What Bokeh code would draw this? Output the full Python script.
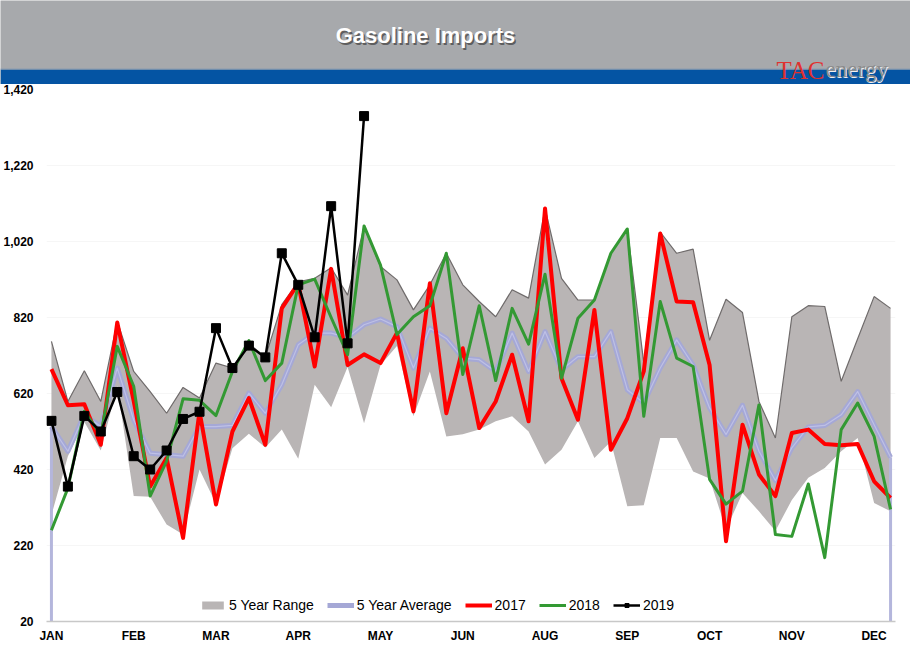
from bokeh.plotting import figure
from bokeh.models import Range1d, FixedTicker, NumeralTickFormatter, Legend, LegendItem
from bokeh.layouts import column
from bokeh.embed import file_html
from bokeh.resources import INLINE
from bokeh.core.properties import value

# ---------------- data ----------------
title_text = "Gasoline Imports"
month_labels = ["JAN", "FEB", "MAR", "APR", "MAY", "JUN", "AUG", "SEP", "OCT", "NOV", "DEC"]
weeks = list(range(52))
month_ticks = weeks[::5][:len(month_labels)]
y_ticks = [20, 220, 420, 620, 820, 1020, 1220, 1420]

range_max = [757, 599, 680, 599, 810, 678, 625, 568, 636, 608, 700, 687, 752, 715, 854, 914,
             923, 951, 879, 1059, 954, 919, 840, 906, 989, 906, 862, 822, 893, 871, 1107, 923,
             866, 866, 989, 1054, 700, 1045, 989, 1000, 760, 868, 833, 599, 503, 822, 851, 849,
             652, 764, 875, 844]
range_min = [300, 455, 545, 470, 640, 350, 348, 275, 249, 420, 330, 476, 514, 478, 525, 448,
             643, 584, 690, 542, 695, 745, 560, 678, 507, 513, 525, 547, 560, 520, 433, 472,
             547, 450, 494, 323, 326, 503, 503, 415, 396, 262, 358, 310, 258, 340, 398, 424,
             468, 503, 332, 310]
avg5 = [533, 468, 564, 533, 687, 550, 463, 459, 455, 533, 533, 536, 621, 568, 643, 748,
        779, 779, 767, 801, 816, 796, 687, 792, 765, 713, 709, 678, 779, 678, 783, 682,
        717, 717, 783, 630, 595, 687, 761, 695, 582, 512, 589, 468, 391, 477, 532, 536,
        564, 625, 538, 452]
y2017 = [684, 589, 592, 485, 807, 600, 375, 450, 240, 573, 328, 520, 608, 485, 844, 910,
         691, 948, 695, 723, 700, 779, 573, 910, 568, 739, 529, 599, 722, 547, 1107, 660,
         551, 840, 472, 555, 678, 1041, 862, 860, 695, 231, 538, 407, 350, 516, 525, 487,
         484, 487, 389, 345]
y2018 = [260, 371, 573, 512, 744, 639, 350, 442, 606, 602, 562, 678, 759, 654, 700, 906,
         921, 820, 722, 1061, 958, 775, 822, 851, 989, 670, 851, 654, 844, 750, 934, 660,
         818, 866, 989, 1053, 560, 862, 713, 691, 394, 329, 363, 590, 249, 244, 382, 188,
         525, 595, 507, 315]
y2019 = [548, 375, 561, 520, 624, 455, 420, 470, 553, 572, 792, 687, 746, 715, 989, 906,
         768, 1113, 752, 1350]

# ---------------- header ----------------
W = 910
HH = 84
header = figure(width=W, height=HH, x_range=Range1d(0, W), y_range=Range1d(0, HH),
                output_backend="svg", toolbar_location=None, min_border=0,
                x_axis_type=None, y_axis_type=None)
header.grid.visible = False
header.outline_line_color = None
header.background_fill_color = "#a7a9ac"
header.border_fill_color = "#a7a9ac"
header.quad(left=[0], right=[W], bottom=[0], top=[15], fill_color="#0454a3", line_color=None)
header.quad(left=[0], right=[W], bottom=[15], top=[16], fill_color="#8a9bb0", line_color=None)
header.text(x=[426.5], y=[47.5], text=[title_text], text_align="center", text_baseline="middle",
            text_font=value("Liberation Sans"), text_font_style="bold", text_font_size="22px",
            text_color="#4a4a4a", text_alpha=0.8)
header.text(x=[425], y=[49], text=[title_text], text_align="center", text_baseline="middle",
            text_font=value("Liberation Sans"), text_font_style="bold", text_font_size="22px",
            text_color="white")
header.text(x=[776], y=[14], text=["TAC"], text_align="left", text_baseline="alphabetic",
            text_font=value("Liberation Serif"), text_font_size="25px", text_color="#e0312f")
header.text(x=[826], y=[14], text=["energy"], text_align="left", text_baseline="alphabetic",
            text_font=value("Liberation Serif"), text_font_size="23px", text_color="#f0f0f0")
header.text(x=[825], y=[15], text=["energy"], text_align="left", text_baseline="alphabetic",
            text_font=value("Liberation Serif"), text_font_size="23px", text_color="#8c8c8c")

# ---------------- main chart ----------------
p = figure(width=W, height=659 - HH, x_range=Range1d(-0.3, 51.3), y_range=Range1d(20, 1420),
           output_backend="svg", toolbar_location=None,
           min_border_left=45, min_border_right=15, min_border_top=5, min_border_bottom=38)
p.outline_line_color = None
p.background_fill_color = "white"
p.border_fill_color = "white"
p.xgrid.visible = False
p.ygrid.grid_line_color = "#f6f6f6"
p.ygrid.ticker = FixedTicker(ticks=y_ticks)

p.yaxis.ticker = FixedTicker(ticks=y_ticks)
p.yaxis.formatter = NumeralTickFormatter(format="0,0")
p.yaxis.axis_line_color = None
p.yaxis.major_tick_line_color = None
p.yaxis.minor_tick_line_color = None
p.yaxis.major_tick_out = 0
p.yaxis.minor_tick_out = 0
p.yaxis.major_label_standoff = 13
p.yaxis.major_label_text_font = "Liberation Sans"
p.yaxis.major_label_text_font_style = "bold"
p.yaxis.major_label_text_font_size = "12px"
p.yaxis.major_label_text_color = "black"

p.xaxis.ticker = FixedTicker(ticks=month_ticks)
p.xaxis.major_label_overrides = {t: m for t, m in zip(month_ticks, month_labels)}
p.xaxis.axis_line_color = "#c8c8c8"
p.xaxis.axis_line_width = 1.5
p.xaxis.major_tick_line_color = None
p.xaxis.minor_tick_line_color = None
p.xaxis.major_tick_out = 0
p.xaxis.minor_tick_out = 0
p.xaxis.major_label_standoff = 7
p.xaxis.major_label_text_font = "Liberation Sans"
p.xaxis.major_label_text_font_style = "bold"
p.xaxis.major_label_text_font_size = "12px"
p.xaxis.major_label_text_color = "black"

for f in (header, p):
    if "frame_align" in f.properties():
        f.frame_align = False

rng = p.varea(x=weeks, y1=range_min, y2=range_max, fill_color="#b9b5b5")
p.line(x=weeks, y=range_max, line_color="#6f6b6b", line_width=1.2)

y_floor = p.y_range.start
p.segment(x0=[weeks[0], weeks[-1]], y0=[y_floor, y_floor], x1=[weeks[0], weeks[-1]],
          y1=[avg5[0], avg5[-1]], line_color="#b4b6dc", line_width=3)
avg_r = p.line(x=weeks, y=avg5, line_color="#a5a8d6", line_width=5, line_join="round")
p.line(x=weeks, y=avg5, line_color="#bec0e6", line_width=1.2, line_join="round")

r17 = p.line(x=weeks, y=y2017, line_color="#ff0000", line_width=4, line_join="round")
r18 = p.line(x=weeks, y=y2018, line_color="#339933", line_width=3, line_join="round")
w19 = weeks[:len(y2019)]
r19 = p.line(x=w19, y=y2019, line_color="black", line_width=2.5)
s19 = p.scatter(x=w19, y=y2019, marker="square", size=9, color="black")

legend = Legend(items=[
    LegendItem(label="5 Year Range", renderers=[rng]),
    LegendItem(label="5 Year Average", renderers=[avg_r]),
    LegendItem(label="2017", renderers=[r17]),
    LegendItem(label="2018", renderers=[r18]),
    LegendItem(label="2019", renderers=[r19, s19]),
], orientation="horizontal", location=(153, 8))
legend.background_fill_alpha = 0
legend.border_line_color = None
legend.padding = 0
legend.margin = 0
legend.spacing = 13
legend.glyph_width = 27
legend.glyph_height = 10
legend.label_height = 16
legend.label_standoff = 3
legend.label_text_font = "Liberation Sans"
legend.label_text_font_size = "14px"
legend.label_text_color = "black"
p.add_layout(legend)

layout = column(header, p, spacing=0)
open("out.html", "w").write(file_html(layout, INLINE))
